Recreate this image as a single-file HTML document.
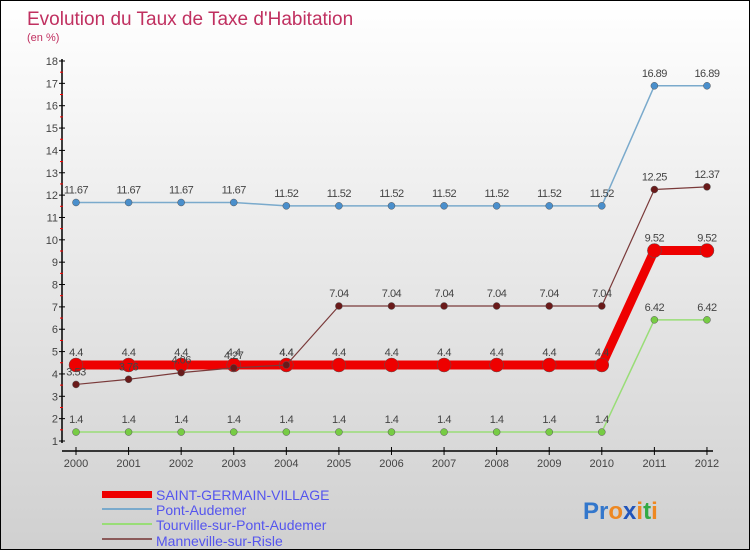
<!DOCTYPE html>
<html><head><meta charset="utf-8"><style>
body{margin:0}
#c{width:750px;height:550px;position:relative;box-sizing:border-box;border:1px solid #000;background:linear-gradient(#ffffff,#d0d0d0);font-family:"Liberation Sans",sans-serif;overflow:hidden}
</style></head><body>
<div id="c">
<svg id="s" width="750" height="550" style="position:absolute;left:0;top:0">
<text x="26" y="24" font-size="19" fill="#c03060">Evolution du Taux de Taxe d'Habitation</text>
<text x="26" y="40" font-size="11" fill="#c03060">(en %)</text>
<g id="ax"></g><g id="series"></g>
<g font-size="14" fill="#5555ee">
<rect x="101" y="490" width="50" height="7" fill="#e00"/>
<text x="155" y="499">SAINT-GERMAIN-VILLAGE</text>
<rect x="101" y="507" width="50" height="2" fill="#7aaacc"/>
<text x="155" y="514">Pont-Audemer</text>
<rect x="101" y="522" width="50" height="2" fill="#99dd77"/>
<text x="155" y="529">Tourville-sur-Pont-Audemer</text>
<rect x="101" y="537" width="50" height="2" fill="#8b5a5a"/>
<text x="155" y="545">Manneville-sur-Risle</text>
</g>
<text x="582" y="518" font-size="24" font-weight="bold"><tspan fill="#3377cc">Pr</tspan><tspan fill="#ee8822">o</tspan><tspan fill="#2255bb">x</tspan><tspan fill="#ee8822">i</tspan><tspan fill="#33aa44">t</tspan><tspan fill="#ee8822">i</tspan></text>
</svg>
</div>
<script>
const years=[2000,2001,2002,2003,2004,2005,2006,2007,2008,2009,2010,2011,2012];
const saintGermain=[4.4,4.4,4.4,4.4,4.4,4.4,4.4,4.4,4.4,4.4,4.4,9.52,9.52];
const pontAudemer=[11.67,11.67,11.67,11.67,11.52,11.52,11.52,11.52,11.52,11.52,11.52,16.89,16.89];
const tourville=[1.4,1.4,1.4,1.4,1.4,1.4,1.4,1.4,1.4,1.4,1.4,6.42,6.42];
const manneville=[3.53,3.76,4.06,4.27,4.4,7.04,7.04,7.04,7.04,7.04,7.04,12.25,12.37];
const yTicks=[1,2,3,4,5,6,7,8,9,10,11,12,13,14,15,16,17,18];
const NS="http://www.w3.org/2000/svg";
const X=i=>75+i*52.58, Y=v=>440-(v-1)*22.353;
function mk(t,a,p){const e=document.createElementNS(NS,t);for(const k in a)e.setAttribute(k,a[k]);p.appendChild(e);return e;}
const ax=document.getElementById('ax');
let l=mk('line',{x1:61,y1:58,x2:61,y2:442,stroke:'#000','stroke-width':1.5},ax);


l=mk('line',{x1:61,y1:450,x2:712,y2:450,stroke:'#000','stroke-width':1.5},ax);


yTicks.forEach(v=>{mk('line',{x1:58,x2:64,y1:Y(v),y2:Y(v),stroke:'#000'},ax);
 if(v<18)mk('line',{x1:59,x2:62,y1:Y(v+0.5),y2:Y(v+0.5),stroke:'#f00'},ax);
 const t=mk('text',{x:57,y:Y(v)+4,'font-size':11,'text-anchor':'end',fill:'#444'},ax);t.textContent=v;
 
 });
years.forEach((y,i)=>{mk('line',{x1:X(i),x2:X(i),y1:446,y2:454,stroke:'#000'},ax);
 const t=mk('text',{x:X(i),y:466,'font-size':11,'text-anchor':'middle',fill:'#444'},ax);t.textContent=y;
 
 });
const sg=document.getElementById('series');
function draw(vals,col,w,r,name,dot){
 const p=mk('polyline',{points:vals.map((v,i)=>X(i)+','+Y(v)).join(' '),fill:'none',stroke:col,'stroke-width':w,'stroke-linejoin':'round'},sg);
 
 
 vals.forEach((v,i)=>{const c=mk('circle',{cx:X(i),cy:Y(v),r:r,fill:dot,stroke:'#555','stroke-width':0.5},sg);
  
  
  const t=mk('text',{x:X(i),y:Y(v)-9,'font-size':11,'text-anchor':'middle',fill:'#444','letter-spacing':'-0.5'},sg);t.textContent=v;
  
  });
}
draw(pontAudemer,'#7aaacc',1.5,3.5,'pont-audemer','#4a8fcc');
draw(tourville,'#99dd77',1.5,3.5,'tourville','#77cc44');
draw(saintGermain,'#ee0000',9,7,'saint-germain','#ee0000');
draw(manneville,'#7a3a3a',1.2,3.5,'manneville','#6a1a1a');
</script>
</body></html>
